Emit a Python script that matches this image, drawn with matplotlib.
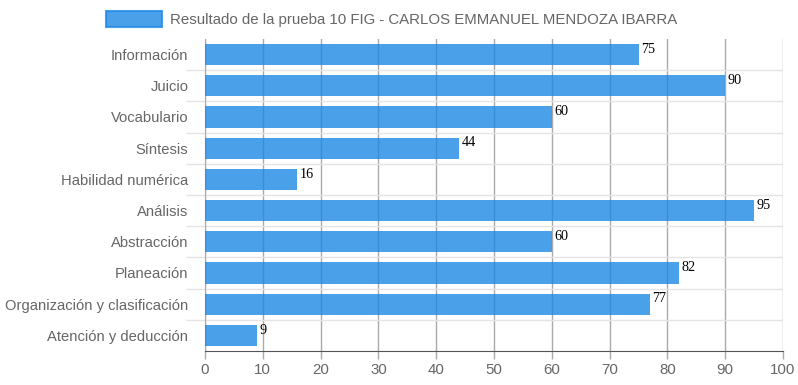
import matplotlib.pyplot as plt
from matplotlib.patches import Patch

plt.rcParams['font.family'] = ['Liberation Sans', 'DejaVu Sans']

categories = ['Información', 'Juicio', 'Vocabulario', 'Síntesis', 'Habilidad numérica',
              'Análisis', 'Abstracción', 'Planeación', 'Organización y clasificación',
              'Atención y deducción']
scores = [75, 90, 60, 44, 16, 95, 60, 82, 77, 9]
xticks = [0, 10, 20, 30, 40, 50, 60, 70, 80, 90, 100]
legend_label = 'Resultado de la prueba 10 FIG - CARLOS EMMANUEL MENDOZA IBARRA'

BLUE = '#1e88e5'
GRAY = '#666666'

fig = plt.figure(figsize=(7.98, 3.85), dpi=100)
ax = fig.add_axes([205 / 798, 1 - 351 / 385, 578 / 798, 312 / 385])

pos = list(range(len(categories)))
ax.barh(pos, scores, height=0.68, color=BLUE, alpha=0.8, zorder=3)

for p, v in zip(pos, scores):
    ax.text(v + 0.4, p - 0.38, str(v), ha='left', va='top', fontsize=10.2,
            family=['Liberation Serif', 'DejaVu Serif'], color='black', zorder=4)

ax.set_xlim(0, 100)
ax.set_ylim(len(categories) - 0.5, -0.5)
ax.set_xticks(xticks)
ax.set_xticklabels([str(t) for t in xticks])
ax.set_yticks(pos)
ax.set_yticklabels(categories)
ax.set_yticks([p + 0.5 for p in pos[:-1]], minor=True)

ax.tick_params(axis='y', which='major', length=0, pad=12, labelsize=10.6, labelcolor=GRAY)
ax.tick_params(axis='y', which='minor', length=14, width=1, color='#e4e4e4')
ax.tick_params(axis='x', which='major', length=6, width=1, color='#aaaaaa',
               labelsize=10.8, labelcolor=GRAY, pad=3)

ax.grid(axis='x', which='major', color='#aaaaaa', linewidth=1, zorder=1)
ax.grid(axis='y', which='minor', color='#e4e4e4', linewidth=1, zorder=1)

for s in ['top', 'right']:
    ax.spines[s].set_visible(False)
ax.spines['left'].set_color('#aaaaaa')
ax.spines['bottom'].set_color('#555555')

handle = Patch(facecolor=BLUE, edgecolor=BLUE, alpha=0.8, linewidth=1.5)
fig.legend([handle], [legend_label], loc='center left', bbox_to_anchor=(106 / 798, 1 - 19 / 385),
           frameon=False, handlelength=3.7, handleheight=1.2, handletextpad=0.6,
           fontsize=10.8, labelcolor=GRAY, borderaxespad=0, borderpad=0)

fig.savefig('out.png', dpi=100)
plt.close(fig)
